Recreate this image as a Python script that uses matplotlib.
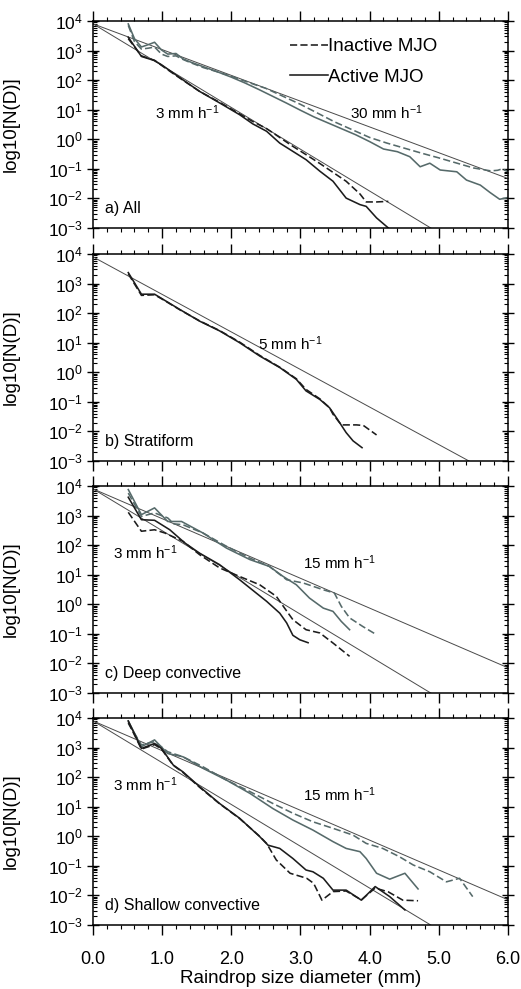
import numpy as np
import matplotlib
matplotlib.use('Agg')
import matplotlib.pyplot as plt
from matplotlib.lines import Line2D
from matplotlib.ticker import LogLocator, MultipleLocator, NullFormatter, FormatStrFormatter

plt.rcParams['font.family'] = ['Liberation Sans', 'DejaVu Sans']
plt.rcParams['mathtext.default'] = 'regular'

# Marshall-Palmer curves N(D) = N0*exp(-4.1*R^-0.21*D), N0 in m^-3 mm^-1
N0 = 8000.0
rates_a = [3, 30]
rates_b = [5]
rates_c = [3, 15]
rates_d = [3, 15]

# log10 N(D) of the mean spectra, D in mm
# a) All
a_act_lo_D = [0.51, 0.70, 0.89, 0.99, 1.16, 1.33, 1.54, 1.83, 2.12, 2.31, 2.51, 2.70, 2.89, 3.08, 3.28, 3.47, 3.66, 3.86, 3.95, 4.10, 4.27]
a_act_lo = [3.45, 2.80, 2.66, 2.52, 2.24, 1.96, 1.62, 1.23, 0.83, 0.52, 0.27, -0.13, -0.41, -0.69, -1.08, -1.42, -1.99, -2.21, -2.27, -2.66, -3.0]
a_ina_lo_D = [0.51, 0.70, 0.89, 0.99, 1.16, 1.33, 1.54, 1.83, 2.12, 2.31, 2.51, 2.70, 2.89, 3.08, 3.28, 3.47, 3.66, 3.86, 3.95, 4.10, 4.27]
a_ina_lo = [3.40, 2.82, 2.67, 2.50, 2.22, 1.95, 1.62, 1.25, 0.86, 0.60, 0.36, 0.06, -0.24, -0.52, -0.82, -1.12, -1.42, -1.85, -2.12, -2.12, -2.10]
a_act_hi_D = [0.51, 0.60, 0.70, 0.80, 0.89, 0.99, 1.08, 1.20, 1.30, 1.40, 1.60, 1.80, 2.00, 2.20, 2.40, 2.60, 2.80, 3.00,
              3.20, 3.40, 3.60, 3.80, 4.00, 4.20, 4.40, 4.58, 4.73, 4.87, 5.02, 5.26, 5.40, 5.60, 5.74, 5.88, 6.00]
a_act_hi = [3.90, 3.40, 3.12, 3.20, 3.28, 3.02, 2.88, 2.90, 2.72, 2.62, 2.45, 2.28, 2.10, 1.90, 1.68, 1.45, 1.22, 0.98,
            0.75, 0.55, 0.35, 0.15, -0.08, -0.33, -0.42, -0.59, -0.93, -0.81, -1.04, -1.10, -1.38, -1.55, -1.80, -2.03, -1.97]
a_ina_hi_D = [0.51, 0.60, 0.70, 0.80, 0.89, 0.99, 1.08, 1.20, 1.30, 1.40, 1.60, 1.80, 2.00, 2.25, 2.50, 2.75,
              3.00, 3.25, 3.50, 3.75, 4.00, 4.25, 4.50, 4.75, 5.00, 5.25, 5.50, 5.75, 5.85, 5.92, 6.00]
a_ina_hi = [3.85, 3.30, 3.05, 3.08, 3.12, 2.88, 2.80, 2.82, 2.70, 2.60, 2.42, 2.28, 2.13, 1.92, 1.72, 1.45,
            1.18, 0.88, 0.58, 0.32, 0.06, -0.13, -0.30, -0.47, -0.63, -0.80, -0.97, -1.07, -1.05, -1.00, -1.10]

# b) Stratiform
b_act_D = [0.51, 0.70, 0.89, 1.01, 1.25, 1.54, 1.83, 2.12, 2.41, 2.70, 2.94, 3.08, 3.28, 3.42, 3.52, 3.66, 3.76, 3.89]
b_act = [3.37, 2.64, 2.64, 2.47, 2.13, 1.73, 1.40, 1.00, 0.55, 0.16, -0.24, -0.63, -0.92, -1.20, -1.54, -2.04, -2.32, -2.55]
b_ina_D = [0.51, 0.70, 0.89, 1.01, 1.25, 1.54, 1.83, 2.12, 2.41, 2.70, 2.94, 3.08, 3.28, 3.42, 3.47, 3.59, 3.81, 3.91, 4.10]
b_ina = [3.33, 2.60, 2.62, 2.46, 2.12, 1.74, 1.41, 1.02, 0.57, 0.17, -0.22, -0.58, -0.90, -1.20, -1.42, -1.78, -1.78, -1.80, -2.12]

# c) Deep convective
c_act_lo_D = [0.51, 0.70, 0.89, 1.11, 1.33, 1.54, 1.83, 2.12, 2.36, 2.51, 2.70, 2.80, 2.89, 2.99, 3.11]
c_act_lo = [3.62, 2.86, 2.84, 2.52, 2.07, 1.73, 1.34, 0.83, 0.38, 0.10, -0.30, -0.63, -1.05, -1.20, -1.30]
c_ina_lo_D = [0.51, 0.70, 0.89, 1.04, 1.30, 1.54, 1.83, 2.12, 2.41, 2.65, 2.77, 2.89, 3.08, 3.28, 3.47, 3.71]
c_ina_lo = [3.11, 2.47, 2.52, 2.41, 2.13, 1.68, 1.23, 0.94, 0.66, 0.27, -0.13, -0.52, -0.86, -0.97, -1.31, -1.76]
c_act_hi_D = [0.51, 0.70, 0.89, 1.08, 1.28, 1.59, 1.93, 2.27, 2.55, 2.75, 2.94, 3.13, 3.33, 3.47, 3.59, 3.71]
c_act_hi = [3.88, 3.03, 3.26, 2.80, 2.80, 2.41, 1.90, 1.51, 1.28, 0.94, 0.66, 0.21, -0.13, -0.24, -0.58, -0.86]
c_ina_hi_D = [0.51, 0.70, 0.89, 1.08, 1.17, 1.30, 1.59, 1.93, 2.27, 2.55, 2.80, 3.04, 3.33, 3.49, 3.59, 3.71, 3.90, 4.10]
c_ina_hi = [3.76, 2.97, 3.09, 2.92, 2.72, 2.69, 2.41, 1.96, 1.56, 1.28, 0.83, 0.72, 0.49, 0.38, -0.07, -0.46, -0.75, -1.03]

# d) Shallow convective
d_act_lo_D = [0.51, 0.70, 0.89, 0.99, 1.16, 1.30, 1.54, 1.83, 2.12, 2.41, 2.53, 2.70, 2.89, 3.08, 3.18, 3.33, 3.47, 3.66, 3.88, 4.08, 4.29, 4.51]
d_act_lo = [3.90, 2.97, 3.14, 2.97, 2.41, 2.18, 1.68, 1.11, 0.61, -0.01, -0.30, -0.41, -0.75, -1.14, -1.20, -1.42, -1.82, -1.82, -2.16, -1.70, -2.04, -2.49]
d_ina_lo_D = [0.51, 0.70, 0.89, 0.99, 1.16, 1.30, 1.54, 1.83, 2.12, 2.41, 2.51, 2.65, 2.85, 3.09, 3.19, 3.31, 3.47, 3.66, 3.88, 4.08, 4.27, 4.48, 4.70]
d_ina_lo = [3.85, 2.95, 3.10, 2.95, 2.40, 2.16, 1.66, 1.10, 0.60, 0.00, -0.24, -0.80, -1.25, -1.42, -1.59, -2.16, -1.87, -1.85, -2.15, -1.75, -1.88, -2.16, -2.18]
d_act_hi_D = [0.51, 0.70, 0.89, 1.08, 1.30, 1.59, 1.93, 2.27, 2.60, 2.89, 3.18, 3.47, 3.66, 3.86, 3.95, 4.10, 4.29, 4.51, 4.70]
d_act_hi = [3.90, 3.03, 3.26, 2.80, 2.69, 2.30, 1.90, 1.45, 0.94, 0.55, 0.21, -0.18, -0.41, -0.52, -0.75, -1.25, -1.45, -1.25, -1.78]
d_ina_hi_D = [0.51, 0.70, 0.89, 1.08, 1.30, 1.59, 1.93, 2.27, 2.60, 2.89, 3.18, 3.47, 3.76, 3.95, 4.19, 4.43, 4.63, 4.87, 5.11, 5.30, 5.49]
d_ina_hi = [3.82, 3.09, 3.20, 2.86, 2.69, 2.35, 1.90, 1.51, 1.11, 0.78, 0.49, 0.27, 0.04, -0.24, -0.41, -0.69, -0.97, -1.20, -1.54, -1.42, -2.04]

panel_titles = ['a) All', 'b) Stratiform', 'c) Deep convective', 'd) Shallow convective']
xticks = [0, 1, 2, 3, 4, 5, 6]

dark = '#1c1c1c'
slate = '#566a6a'
dash = (0, (4.5, 2))

panels = [
    dict(rates=rates_a, title=panel_titles[0],
         lines=[(a_ina_hi_D, a_ina_hi, slate, dash), (a_act_hi_D, a_act_hi, slate, '-'),
                (a_ina_lo_D, a_ina_lo, dark, dash), (a_act_lo_D, a_act_lo, dark, '-')],
         notes=[(0.90, 0.89, '3 mm h$^{-1}$'), (3.72, 0.89, '30 mm h$^{-1}$')]),
    dict(rates=rates_b, title=panel_titles[1],
         lines=[(b_ina_D, b_ina, dark, dash), (b_act_D, b_act, dark, '-')],
         notes=[(2.39, 0.96, '5 mm h$^{-1}$')]),
    dict(rates=rates_c, title=panel_titles[2],
         lines=[(c_ina_hi_D, c_ina_hi, slate, dash), (c_act_hi_D, c_act_hi, slate, '-'),
                (c_ina_lo_D, c_ina_lo, dark, dash), (c_act_lo_D, c_act_lo, dark, '-')],
         notes=[(0.29, 1.73, '3 mm h$^{-1}$'), (3.04, 1.40, '15 mm h$^{-1}$')]),
    dict(rates=rates_d, title=panel_titles[3],
         lines=[(d_ina_hi_D, d_ina_hi, slate, dash), (d_act_hi_D, d_act_hi, slate, '-'),
                (d_ina_lo_D, d_ina_lo, dark, dash), (d_act_lo_D, d_act_lo, dark, '-')],
         notes=[(0.29, 1.73, '3 mm h$^{-1}$'), (3.04, 1.40, '15 mm h$^{-1}$')]),
]

fig = plt.figure(figsize=(5.21, 9.89), dpi=100)
left, width, height = 0.1785, 0.7965, 0.2093
bottoms = [0.7695, 0.5339, 0.2993, 0.0647]

Dmp = np.array([0.0, 6.0])
for i, p in enumerate(panels):
    ax = fig.add_axes([left, bottoms[i], width, height])
    for R in p['rates']:
        lam = 4.1 * R ** -0.21
        ax.plot(Dmp, N0 * np.exp(-lam * Dmp), color='#4a4a4a', lw=0.7)
    for D, logN, c, ls in p['lines']:
        ax.plot(D, 10.0 ** np.array(logN), color=c, ls=ls, lw=1.15)
    for x, ly, s in p['notes']:
        ax.text(x, 10 ** ly, s, fontsize=11, ha='left', va='center')
    ax.text(0.029, 0.092, p['title'], transform=ax.transAxes, fontsize=11.5, ha='left', va='center')

    ax.set_yscale('log')
    ax.set_xlim(0, 6)
    ax.set_ylim(1e-3, 1e4)
    ax.yaxis.set_major_locator(LogLocator(base=10, numticks=12))
    ax.yaxis.set_minor_locator(LogLocator(base=10, subs=np.arange(2, 10), numticks=12))
    ax.yaxis.set_minor_formatter(NullFormatter())
    ax.set_xticks(xticks)
    ax.xaxis.set_minor_locator(MultipleLocator(0.2))
    ax.xaxis.set_major_formatter(FormatStrFormatter('%.1f'))
    ax.tick_params(axis='x', which='major', direction='out', length=7, width=1.0, top=True,
                   labelbottom=(i == 3), labelsize=13, pad=12)
    ax.tick_params(axis='x', which='minor', direction='out', length=3, width=0.8, top=True)
    ax.tick_params(axis='y', which='major', direction='inout', length=9, width=1.0, right=True,
                   labelsize=12.5, pad=3)
    ax.tick_params(axis='y', which='minor', direction='in', length=3, width=0.8, right=True)
    for sp in ax.spines.values():
        sp.set_linewidth(1.1)
    ax.set_ylabel('log10[N(D)]', fontsize=13.5)
    ax.yaxis.set_label_coords(-0.176, 0.5)
    if i == 0:
        handles = [Line2D([], [], color=dark, ls=dash, lw=1.15),
                   Line2D([], [], color=dark, ls='-', lw=1.15)]
        ax.legend(handles, ['Inactive MJO', 'Active MJO'], loc='upper left',
                  bbox_to_anchor=(0.475, 0.918), frameon=False, fontsize=13.5,
                  handlelength=2.0, handletextpad=0.0, labelspacing=0.72,
                  borderpad=0, borderaxespad=0)
    if i == 3:
        ax.set_xlabel('Raindrop size diameter (mm)', fontsize=13.5, labelpad=1)

fig.savefig('out.png', dpi=100)
